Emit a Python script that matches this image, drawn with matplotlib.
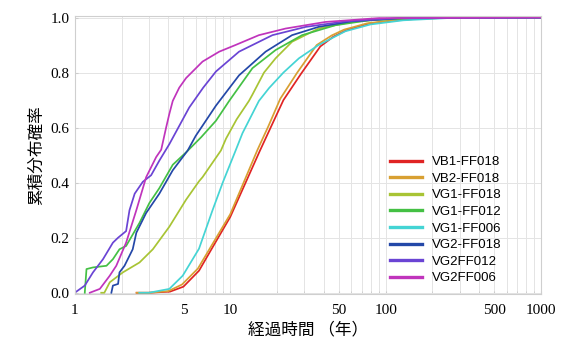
import numpy as np
import matplotlib.pyplot as plt
from matplotlib.ticker import FixedLocator, NullFormatter

plt.rcParams['font.family'] = ['Noto Sans CJK JP', 'DejaVu Sans']

names = ['VB1-FF018', 'VB2-FF018', 'VG1-FF018', 'VG1-FF012',
         'VG1-FF006', 'VG2-FF018', 'VG2FF012', 'VG2FF006']
colors = ['#e02424', '#d8a032', '#a8c434', '#44c044',
          '#44d4d4', '#2448a8', '#6a44d4', '#c034bc']

# 経過時間 (年) と累積確率、図から読み取った値
vb1_x = [2.5, 3.0, 4.1, 5.0, 6.3, 7.7, 10.0, 15.5, 18.2, 22.0, 28.5, 38, 46, 56, 78, 120, 165, 300, 1000]
vb1_y = [0.0, 0.0, 0.004, 0.022, 0.08, 0.165, 0.275, 0.515, 0.60, 0.70, 0.795, 0.895, 0.93, 0.954, 0.978, 0.99, 0.996, 1.0, 1.0]
vb2_x = [2.5, 3.0, 4.0, 4.9, 6.2, 7.6, 10.0, 15.0, 17.6, 21.0, 27.0, 36, 45, 54, 76, 115, 160, 300, 1000]
vb2_y = [0.0, 0.0, 0.006, 0.03, 0.088, 0.172, 0.285, 0.52, 0.605, 0.705, 0.80, 0.90, 0.935, 0.956, 0.979, 0.991, 0.996, 1.0, 1.0]
vg1_18_x = [1.48, 1.55, 1.68, 2.04, 2.61, 3.18, 4.06, 5.2, 6.3, 6.64, 8.72, 9.4, 11.0, 13.2, 13.9, 16.5, 19.6, 25, 37, 60, 100, 200, 1000]
vg1_18_y = [0.0, 0.0, 0.038, 0.074, 0.11, 0.158, 0.24, 0.338, 0.405, 0.42, 0.517, 0.56, 0.63, 0.697, 0.72, 0.80, 0.852, 0.912, 0.96, 0.984, 0.994, 1.0, 1.0]
vg1_12_x = [1.16, 1.19, 1.31, 1.6, 1.76, 1.94, 2.14, 2.61, 3.02, 3.5, 4.27, 5.2, 6.5, 8.1, 9.85, 13.9, 19.6, 29, 47.5, 78, 150, 1000]
vg1_12_y = [0.0, 0.086, 0.092, 0.098, 0.122, 0.158, 0.17, 0.254, 0.326, 0.38, 0.465, 0.51, 0.565, 0.625, 0.697, 0.816, 0.882, 0.936, 0.972, 0.99, 0.998, 1.0]
vg1_06_x = [2.6, 3.0, 4.06, 4.95, 6.3, 7.7, 8.95, 10.84, 12.0, 15.3, 17.8, 22.0, 27.7, 37, 55, 80, 130, 250, 1000]
vg1_06_y = [0.0, 0.0, 0.014, 0.062, 0.16, 0.30, 0.40, 0.517, 0.58, 0.697, 0.744, 0.80, 0.852, 0.90, 0.95, 0.975, 0.99, 0.998, 1.0]
vg2_18_x = [1.72, 1.76, 1.9, 1.94, 2.09, 2.36, 2.49, 2.88, 3.5, 4.27, 5.33, 6.0, 8.1, 11.4, 16.9, 25, 37, 60, 120, 1000]
vg2_18_y = [0.0, 0.026, 0.032, 0.074, 0.098, 0.158, 0.218, 0.29, 0.36, 0.445, 0.517, 0.57, 0.68, 0.79, 0.876, 0.936, 0.966, 0.986, 0.997, 1.0]
vg2_12_x = [1.0, 1.16, 1.31, 1.52, 1.76, 1.9, 2.14, 2.25, 2.43, 2.74, 3.1, 3.5, 4.06, 5.45, 6.7, 8.1, 11.4, 18.7, 30.6, 55, 120, 1000]
vg2_12_y = [0.0, 0.026, 0.074, 0.122, 0.182, 0.20, 0.224, 0.30, 0.36, 0.403, 0.427, 0.48, 0.54, 0.673, 0.745, 0.804, 0.876, 0.936, 0.966, 0.986, 0.998, 1.0]
vg2_06_x = [1.25, 1.45, 1.68, 1.85, 2.14, 2.49, 2.88, 3.34, 3.6, 3.87, 4.06, 4.27, 4.7, 5.2, 6.64, 8.5, 10.8, 15.3, 22.7, 41, 90, 1000]
vg2_06_y = [0.0, 0.014, 0.062, 0.098, 0.182, 0.30, 0.42, 0.493, 0.52, 0.60, 0.65, 0.697, 0.745, 0.78, 0.84, 0.876, 0.90, 0.936, 0.96, 0.984, 0.998, 1.0]

xs = [vb1_x, vb2_x, vg1_18_x, vg1_12_x, vg1_06_x, vg2_18_x, vg2_12_x, vg2_06_x]
ys = [vb1_y, vb2_y, vg1_18_y, vg1_12_y, vg1_06_y, vg2_18_y, vg2_12_y, vg2_06_y]

xticks = [1, 5, 10, 50, 100, 500, 1000]
yticks = [0.0, 0.2, 0.4, 0.6, 0.8, 1.0]

fig = plt.figure(figsize=(5.75, 3.44), dpi=100)
ax = fig.add_axes([0.130, 0.145, 0.811, 0.808])

for i in range(len(names)):
    ax.plot(xs[i], ys[i], color=colors[i], lw=1.25, label=names[i])

ax.set_xscale('log')
ax.set_xlim(1, 1000)
ax.set_ylim(-0.005, 1.005)

minor = [m * 10 ** k for k in range(3) for m in range(2, 10)]
ax.xaxis.set_major_locator(FixedLocator(xticks))
ax.xaxis.set_minor_locator(FixedLocator(minor))
ax.xaxis.set_minor_formatter(NullFormatter())
ax.set_xticklabels([str(t) for t in xticks], family='Liberation Serif', fontsize=11)
ax.set_yticks(yticks)
ax.set_yticklabels(['%.1f' % t for t in yticks], family='Liberation Serif', fontsize=11)

ax.grid(True, which='both', axis='x', color='#e4e4e4', lw=0.7)
ax.grid(True, which='major', axis='y', color='#e4e4e4', lw=0.7)
ax.tick_params(which='both', length=2, color='#cccccc', direction='in')
ax.tick_params(axis='x', pad=7)
ax.tick_params(axis='y', pad=4)
for s in ax.spines.values():
    s.set_color('#cfcfcf')
    s.set_linewidth(0.8)

ax.set_xlabel('経過時間 （年）', fontsize=12, labelpad=3)
ax.set_ylabel('累積分布確率', fontsize=12, labelpad=4)

leg = ax.legend(loc='upper left', bbox_to_anchor=(0.657, 0.53), frameon=False,
                prop={'family': 'Liberation Sans', 'size': 9.5},
                handlelength=2.4, labelspacing=0.33, handletextpad=0.75,
                borderpad=0.2)
for l in leg.get_lines():
    l.set_linewidth(2.4)

fig.savefig('out.png', dpi=100)
